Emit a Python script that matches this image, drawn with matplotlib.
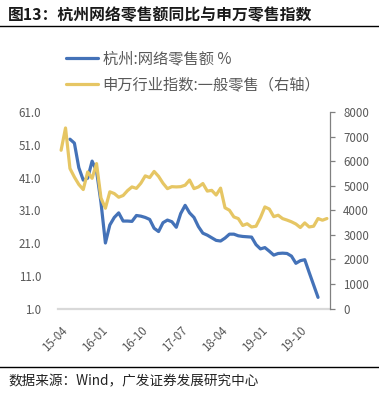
import matplotlib
matplotlib.use("Agg")
import matplotlib.pyplot as plt
from matplotlib.lines import Line2D

plt.rcParams["font.family"] = ["Noto Sans CJK SC", "DejaVu Sans"]

# month index 0 = 2015-04
TICK_POS = [0, 9, 18, 27, 36, 45, 54]
TICK_LABELS = ["15-04", "16-01", "16-10", "17-07", "18-04", "19-01", "19-10"]

# 杭州:网络零售额 % (left axis), months 2..58
hz_months = list(range(2, 59))
hz_values = [
    52.7, 51.5, 44.0, 40.2, 40.8, 46.0, 43.0, 33.4, 21.0, 26.5,
    28.8, 30.2, 27.7, 27.7, 27.6, 29.4, 29.2, 28.8, 28.2, 25.5,
    24.5, 27.2, 28.0, 27.5, 25.8, 30.0, 32.5, 30.2, 28.8, 26.0,
    24.0, 23.4, 22.6, 21.8, 21.6, 22.5, 23.7, 23.7, 23.2, 23.0,
    22.9, 22.8, 20.5, 19.2, 19.6, 18.5, 17.3, 17.8, 17.9, 17.8,
    17.0, 14.8, 15.6, 15.9, 12.0, 8.2, 4.4,
]

# 申万行业指数:一般零售 (right axis), months 0..60
sw_months = list(range(0, 61))
sw_values = [
    6443, 7350, 5700, 5350, 5050, 4843, 5560, 5300, 5900, 4500,
    4082, 4750, 4680, 4530, 4600, 4800, 4950, 4890, 5100, 5400,
    5330, 5580, 5380, 5100, 4880, 4960, 4950, 4960, 5020, 5230,
    4880, 4950, 5088, 4780, 4810, 4620, 4900, 4100, 4000, 3728,
    3660, 3380, 3450, 3320, 3350, 3700, 4135, 4050, 3740, 3797,
    3660, 3600, 3530, 3440, 3297, 3484, 3320, 3350, 3663, 3594,
    3663,
]

BLUE = "#4472B8"
GOLD = "#E6C664"
GREY_TXT = "#595959"

W, H = 379, 395
fig = plt.figure(figsize=(W / 100, H / 100), dpi=100)

# title and rules
fig.text(8 / W, 1 - 15 / H, "图13：杭州网络零售额同比与申万零售指数",
         fontsize=11.4, fontweight="bold", color="#1a1a1a", va="center", ha="left")
fig.add_artist(Line2D([0, 1], [1 - 25.5 / H] * 2, color="black", linewidth=1.0))
fig.add_artist(Line2D([0, 1], [1 - 367 / H] * 2, color="black", linewidth=1.0))
fig.text(8 / W, 1 - 381 / H, "数据来源：Wind，广发证券发展研究中心",
         fontsize=9.8, color="#222222", va="center", ha="left")

ax = fig.add_axes([58 / W, 1 - 308.5 / H, 272 / W, 196.5 / H])
ax2 = ax.twinx()

l1, = ax.plot(hz_months, hz_values, color=BLUE, linewidth=2.3,
              solid_joinstyle="round", solid_capstyle="round")
l2, = ax2.plot(sw_months, sw_values, color=GOLD, linewidth=2.3,
               solid_joinstyle="round", solid_capstyle="round")

ax.set_xlim(-0.7, 60.7)
ax.set_ylim(1, 61)
ax.set_yticks([1, 11, 21, 31, 41, 51, 61])
ax.set_yticklabels([f"{v:.1f}" for v in [1, 11, 21, 31, 41, 51, 61]])
ax2.set_ylim(0, 8000)
ax2.set_yticks(range(0, 8001, 1000))

ax.set_xticks(TICK_POS)
ax.set_xticklabels(TICK_LABELS, rotation=45, ha="right", va="top",
                   rotation_mode="anchor")

for a in (ax, ax2):
    for s in ("top", "left"):
        a.spines[s].set_visible(False)
ax.spines["right"].set_visible(False)
ax2.spines["bottom"].set_visible(False)
ax.spines["bottom"].set_color("#D9D9D9")
ax.spines["bottom"].set_linewidth(1.6)
ax2.spines["right"].set_color("#808080")
ax2.spines["right"].set_linewidth(0.9)

ax.tick_params(axis="y", length=0, pad=12, labelsize=8.3, labelcolor=GREY_TXT)
ax.tick_params(axis="x", length=0, pad=11, labelsize=8.3, labelcolor=GREY_TXT)
ax2.tick_params(axis="y", length=3.5, width=0.9, color="#808080", pad=6,
                labelsize=8.3, labelcolor=GREY_TXT)

fig.legend([l1, l2], ["杭州:网络零售额 %", "申万行业指数:一般零售（右轴）"],
           loc="upper left", bbox_to_anchor=(66 / W, 1 - 50 / H),
           frameon=False, fontsize=11, labelcolor=GREY_TXT,
           handlelength=2.1, handletextpad=0.3, labelspacing=0.6,
           borderpad=0, borderaxespad=0)

fig.savefig("out.png", dpi=100)
